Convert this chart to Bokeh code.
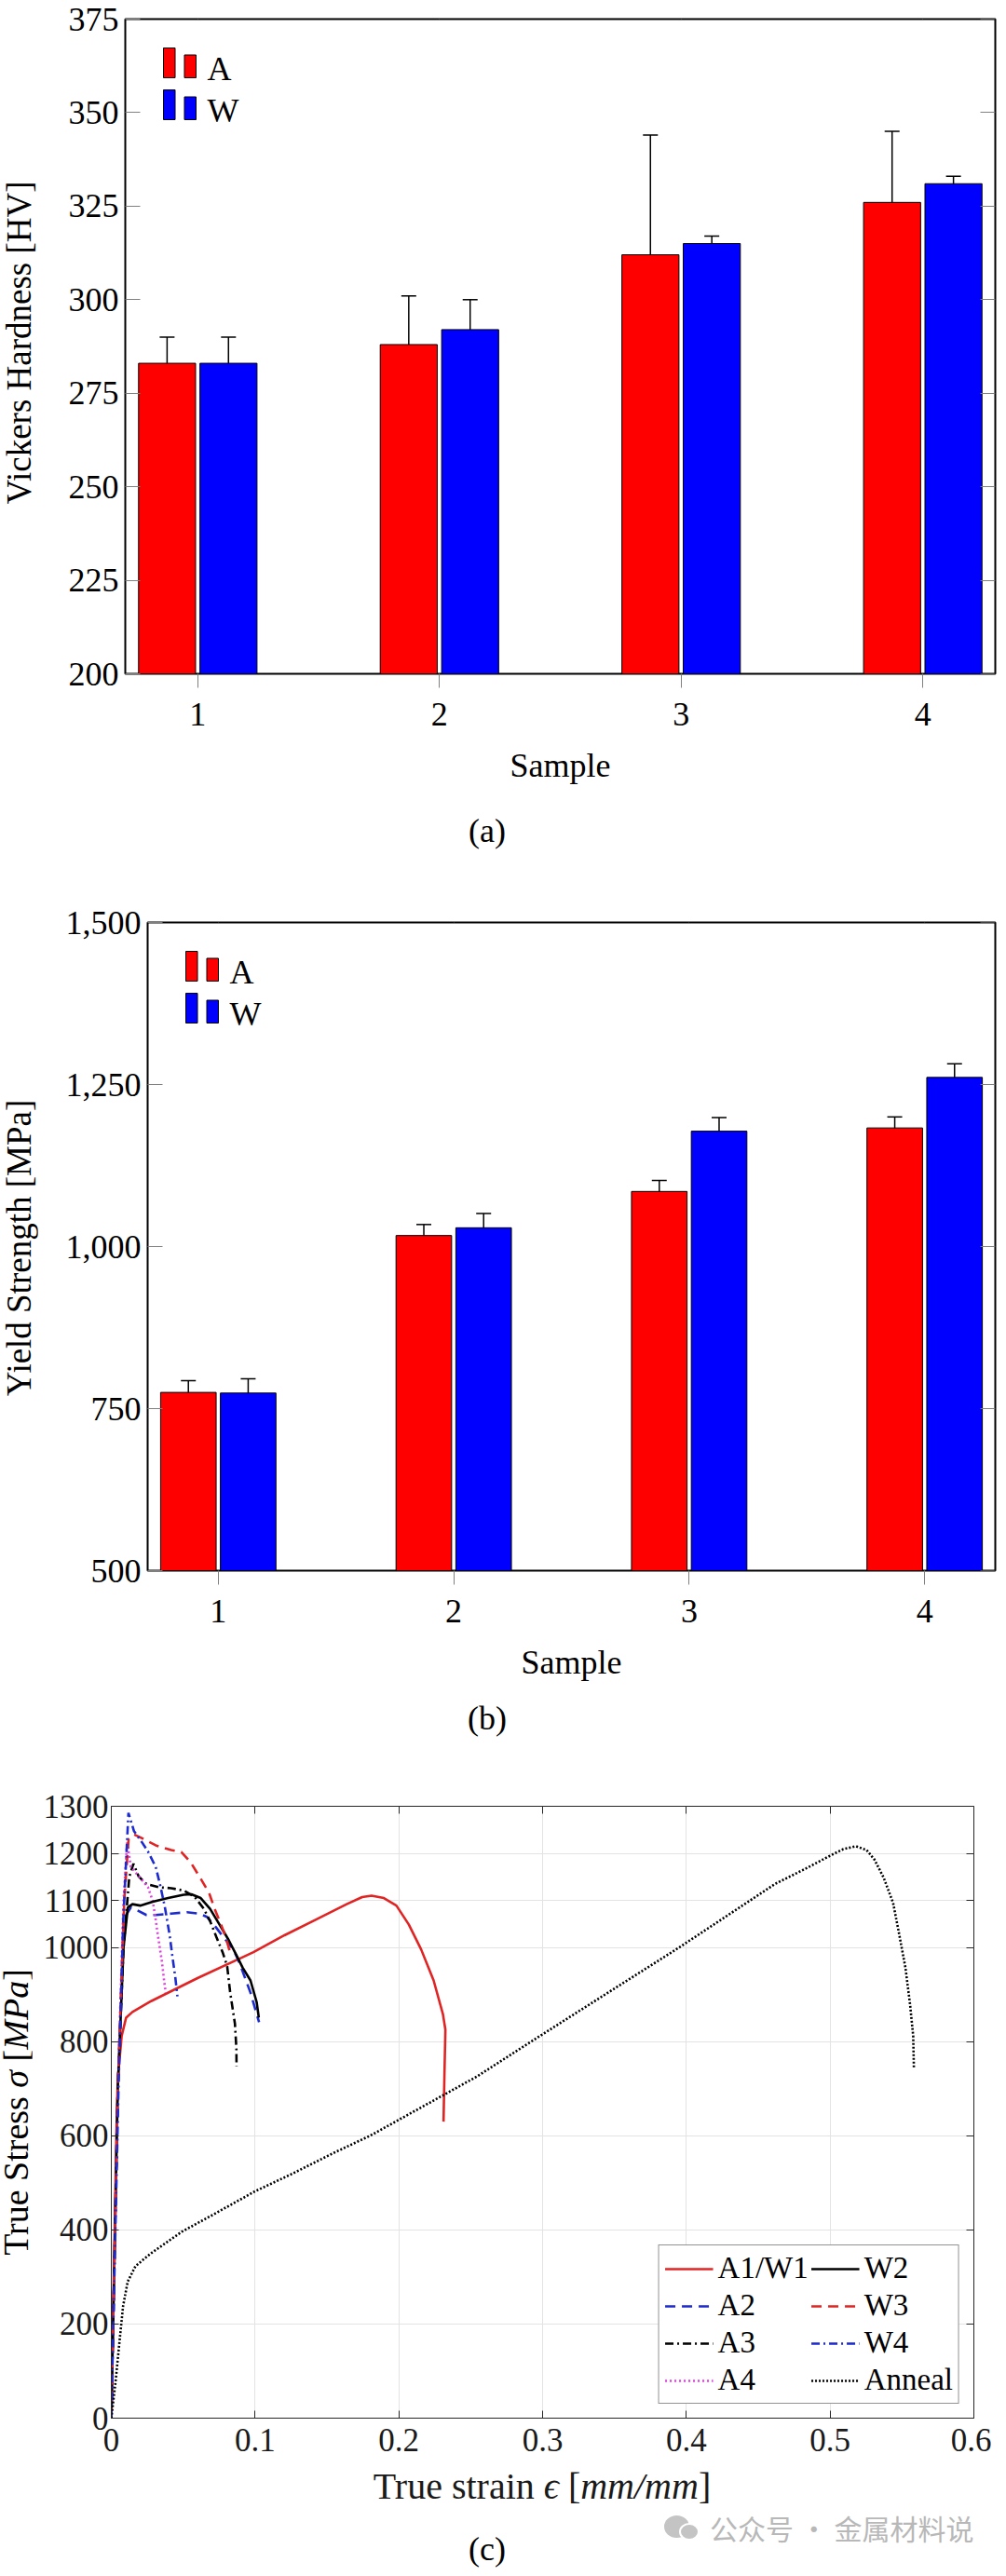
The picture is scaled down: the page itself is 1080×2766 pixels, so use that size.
import numpy as np
from bokeh.embed import file_html
from bokeh.layouts import column, row
from bokeh.models import (BoxAnnotation, ColumnDataSource, Div, FixedTicker, Label, Legend,
                          LegendItem, LinearAxis, NumeralTickFormatter, TeeHead, Whisker)
from bokeh.plotting import figure
from bokeh.resources import INLINE

# ---- data ----
samples = [1, 2, 3, 4]

hv_A = [283, 288, 312, 326]
hv_A_err = [7, 13, 32, 19]
hv_W = [283, 292, 315, 331]
hv_W_err = [7, 8, 2, 2]

ys_A = [775, 1017, 1085, 1183]
ys_A_err = [18, 17, 17, 17]
ys_W = [774, 1029, 1178, 1261]
ys_W_err = [22, 22, 21, 21]

a1w1_strain = [0, 0.0035, 0.0045, 0.0072, 0.0103, 0.0147, 0.0277, 0.060, 0.0989, 0.1205, 0.1421,
               0.1637, 0.1745, 0.181, 0.1896, 0.1983, 0.2069, 0.2155, 0.2242, 0.2307, 0.2324, 0.2317, 0.2311]
a1w1_stress = [0, 600, 720, 812, 851, 863, 886, 935, 990, 1026, 1059,
               1092, 1107, 1110, 1105, 1089, 1049, 996, 930, 858, 825, 726, 630]

a2_strain = [0, 0.0045, 0.008, 0.0105, 0.0136, 0.018, 0.0244, 0.0309, 0.0417, 0.0525, 0.0611,
             0.0665, 0.073, 0.0795, 0.0849, 0.0892, 0.0968, 0.1028]
a2_stress = [0, 700, 1000, 1070, 1085, 1079, 1069, 1069, 1072, 1075, 1072,
             1065, 1042, 1016, 996, 967, 904, 841]

a3_strain = [0, 0.0045, 0.0085, 0.0125, 0.0154, 0.019, 0.0244, 0.033, 0.0417, 0.0503, 0.0579,
             0.0644, 0.0687, 0.073, 0.0774, 0.0806, 0.0827, 0.086, 0.087, 0.0871]
a3_stress = [0, 700, 1000, 1150, 1178, 1151, 1135, 1128, 1126, 1121, 1108,
             1082, 1056, 1023, 990, 960, 904, 838, 785, 747]

a4_strain = [0, 0.0045, 0.0085, 0.011, 0.0136, 0.0201, 0.0255, 0.0288, 0.0309, 0.0324, 0.0352, 0.0367, 0.0378]
a4_stress = [0, 700, 1100, 1225, 1171, 1148, 1128, 1099, 1059, 1026, 970, 930, 904]

w2_strain = [0, 0.0045, 0.0085, 0.0115, 0.0147, 0.0201, 0.0288, 0.0395, 0.0503, 0.0557, 0.0622,
             0.0687, 0.0752, 0.0816, 0.0871, 0.0914, 0.0968, 0.1011, 0.1026]
w2_stress = [0, 700, 1000, 1085, 1092, 1089, 1097, 1105, 1112, 1113, 1105,
             1082, 1049, 1016, 983, 957, 930, 884, 851]

w3_strain = [0, 0.0045, 0.009, 0.012, 0.0158, 0.0201, 0.0309, 0.0417, 0.0487, 0.0552, 0.0616,
             0.068, 0.0719, 0.0763, 0.0795, 0.083]
w3_stress = [0, 700, 1100, 1230, 1240, 1234, 1217, 1207, 1203, 1181, 1149,
             1116, 1082, 1049, 1023, 985]

w4_strain = [0, 0.005, 0.0082, 0.0119, 0.0158, 0.0212, 0.0255, 0.0309, 0.0341, 0.0373, 0.0406,
             0.0424, 0.0445, 0.046]
w4_stress = [0, 700, 1050, 1286, 1247, 1224, 1204, 1171, 1131, 1085, 1026,
             983, 937, 896]

anneal_strain = [0, 0.0028, 0.006, 0.0082, 0.0114, 0.0168, 0.0275, 0.049, 0.0706, 0.1, 0.125,
                 0.155, 0.18, 0.2544, 0.292, 0.346, 0.395, 0.4617, 0.4833, 0.5, 0.5092, 0.518,
                 0.5254, 0.5308, 0.5373, 0.5438, 0.548, 0.5524, 0.5557, 0.5578, 0.5583]
anneal_stress = [0, 73, 172, 238, 290, 323, 350, 396, 432, 482, 518,
                 564, 600, 726, 800, 905, 1000, 1135, 1168, 1195, 1209, 1215,
                 1207, 1187, 1148, 1095, 1029, 957, 877, 812, 742]

strain_ticks = [0, 0.1, 0.2, 0.3, 0.4, 0.5, 0.6]
stress_ticks = [0, 200, 400, 600, 800, 1000, 1100, 1200, 1300]

SERIF = "Liberation Serif"
FS = "36px"


def tick_only_axis(ticks, loc, t_in, t_out, color, line_color):
    # box-style ticks on the far side of the frame, no labels
    return LinearAxis(ticker=FixedTicker(ticks=ticks), fixed_location=loc,
                      major_label_text_color=None, major_label_text_font_size="1px",
                      major_tick_in=t_in, major_tick_out=t_out, axis_line_color=line_color,
                      major_tick_line_color=color, minor_tick_line_color=None)


def ylabel_div(html, width, height, cy, size):
    # rotated axis title, kept in its own box so the frame position is exact
    return Div(text=f'<div style="position:relative;width:{width}px;height:{height}px">'
                    f'<div style="position:absolute;left:{width / 2}px;top:{cy}px;'
                    f'transform:translate(-50%,-50%) rotate(-90deg);white-space:nowrap;'
                    f'font-family:\'Liberation Serif\';font-size:{size}px;line-height:1;'
                    f'color:black">{html}</div></div>',
               width=width, height=height, margin=0)


def caption(text, height):
    return Div(text=f'<div style="width:1064px;height:{height}px;box-sizing:border-box;'
                    f'padding-right:18px;text-align:center;line-height:{height}px;'
                    f'font-family:\'Liberation Serif\';font-size:36px;color:black">{text}</div>',
               width=1064, height=height, margin=0)


def bar_panel(vals_a, err_a, vals_w, err_w, yr, yticks, height, b_top, b_left, frame_h):
    p = figure(width=1030, height=height, x_range=(0.7, 4.3), y_range=yr,
               output_backend="svg", toolbar_location=None,
               min_border_left=b_left, min_border_right=2, min_border_top=b_top,
               min_border_bottom=height - b_top - frame_h)
    p.xgrid.visible = False
    p.ygrid.visible = False
    p.outline_line_color = "black"
    p.outline_line_width = 2

    xs = np.array(samples, dtype=float)
    for vals, err, off, col in [(vals_a, err_a, -0.127, "#ff0000"), (vals_w, err_w, 0.127, "#0000ff")]:
        x = xs + off
        p.vbar(x=x, top=vals, width=0.236, fill_color=col, line_color="black", line_width=1)
        src = ColumnDataSource(dict(x=x, upper=np.array(vals) + np.array(err),
                                    lower=np.array(vals) - np.array(err)))
        p.add_layout(Whisker(source=src, base="x", upper="upper", lower="lower",
                             line_color="black", line_width=1.5,
                             upper_head=TeeHead(size=16, line_color="black", line_width=1.5),
                             lower_head=TeeHead(size=16, line_color="black", line_width=1.5)))

    p.xaxis.ticker = FixedTicker(ticks=samples)
    p.yaxis.ticker = FixedTicker(ticks=yticks)
    p.xaxis.axis_label = "Sample"
    for ax in (p.xaxis[0], p.yaxis[0]):
        ax.axis_line_color = None
        ax.major_tick_line_color = "#808080"
        ax.minor_tick_line_color = None
        ax.major_label_text_font = SERIF
        ax.major_label_text_font_size = FS
        ax.major_label_text_color = "black"
        ax.axis_label_text_font = SERIF
        ax.axis_label_text_font_size = FS
        ax.axis_label_text_font_style = "normal"
        ax.axis_label_text_color = "black"
    p.xaxis.major_tick_out = 15
    p.xaxis.major_tick_in = 0
    p.xaxis.major_label_standoff = 16
    p.xaxis.axis_label_standoff = 20
    p.yaxis.major_tick_out = 0
    p.yaxis.major_tick_in = 16
    p.yaxis.major_label_standoff = 7

    p.add_layout(tick_only_axis(samples, yr[1], 0, 15, "#808080", None), "above")
    p.add_layout(tick_only_axis(yticks, 4.3, 16, 0, "#808080", None), "right")

    # legend keys (two little bars per entry, like pgfplots)
    for rw, (col, name) in enumerate([("#ff0000", "A"), ("#0000ff", "W")]):
        top0 = frame_h - 31 - 45 * rw
        for l, r, t in [(41, 53.5, top0), (63.5, 76, top0 - 7.5)]:
            p.add_layout(BoxAnnotation(left=l, right=r, top=t, bottom=top0 - 32,
                                       left_units="screen", right_units="screen",
                                       top_units="screen", bottom_units="screen",
                                       fill_color=col, fill_alpha=1, line_color="black",
                                       line_width=1, line_alpha=1))
        p.add_layout(Label(x=88, y=top0 - 22, x_units="screen", y_units="screen", text=name,
                           text_font=SERIF, text_font_size=FS, text_baseline="middle",
                           text_color="black"))
    return p


p1 = bar_panel(hv_A, hv_A_err, hv_W, hv_W_err, (200, 375), [200, 225, 250, 275, 300, 325, 350, 375],
               height=862, b_top=20, b_left=94, frame_h=703)
row_a = row(ylabel_div("Vickers Hardness [HV]", 40, 862, 367.5, 37), p1, spacing=0)
cap_a = caption("(a)", 60)

p2 = bar_panel(ys_A, ys_A_err, ys_W, ys_W_err, (500, 1500), [500, 750, 1000, 1250, 1500],
               height=896, b_top=68, b_left=118, frame_h=696)
p2.yaxis[0].formatter = NumeralTickFormatter(format="0,0")
row_b = row(ylabel_div("Yield Strength [MPa]", 40, 896, 418, 37), p2, spacing=0)
cap_b = caption("(b)", 54)

# ---- (c) true stress-strain ----
p3 = figure(width=1030, height=779, x_range=(0, 0.6), y_range=(0, 1300),
            output_backend="svg", toolbar_location=None,
            min_border_left=85, min_border_right=19, min_border_top=67, min_border_bottom=55)
p3.outline_line_color = "#262626"
p3.outline_line_width = 1
p3.xgrid.ticker = FixedTicker(ticks=strain_ticks)
p3.ygrid.ticker = FixedTicker(ticks=stress_ticks)
p3.grid.grid_line_color = "#e3e3e3"
p3.grid.grid_line_width = 1

curves = [
    ("A1/W1", a1w1_strain, a1w1_stress, "#e02424", "solid"),
    ("A2", a2_strain, a2_stress, "#1c2ad0", "11 7"),
    ("A3", a3_strain, a3_stress, "#000000", "9 4 2 4"),
    ("A4", a4_strain, a4_stress, "#e040e0", "2 3"),
    ("W2", w2_strain, w2_stress, "#000000", "solid"),
    ("W3", w3_strain, w3_stress, "#e02424", "11 7"),
    ("W4", w4_strain, w4_stress, "#1c2ad0", "9 4 2 4"),
    ("Anneal", anneal_strain, anneal_stress, "#000000", "2 2"),
]
items = []
for name, xs_, ys_, col, dash in curves:
    r = p3.line(xs_, ys_, line_color=col, line_dash=dash, line_width=2.6)
    items.append(LegendItem(label=name, renderers=[r]))

leg = Legend(items=items, location="bottom_right", ncols=2, margin=15, padding=6, spacing=3,
             glyph_width=52, glyph_height=30, label_height=30, label_standoff=5,
             label_text_font=SERIF, label_text_font_size="33px", label_text_color="black",
             border_line_color="#262626", border_line_width=1, background_fill_alpha=1)
p3.add_layout(leg)

p3.xaxis.ticker = FixedTicker(ticks=strain_ticks)
p3.xaxis.major_label_overrides = {0: "0", 0.1: "0.1", 0.2: "0.2", 0.3: "0.3",
                                  0.4: "0.4", 0.5: "0.5", 0.6: "0.6"}
p3.yaxis.ticker = FixedTicker(ticks=stress_ticks)
for ax in (p3.xaxis[0], p3.yaxis[0]):
    ax.axis_line_color = "#262626"
    ax.major_tick_line_color = "#262626"
    ax.minor_tick_line_color = None
    ax.major_tick_in = 8
    ax.major_tick_out = 0
    ax.major_label_text_font = SERIF
    ax.major_label_text_font_size = "35px"
    ax.major_label_text_color = "#1a1a1a"
p3.xaxis.major_label_standoff = 11
p3.yaxis.major_label_standoff = 3

p3.add_layout(tick_only_axis(strain_ticks, 1300, 8, 0, "#262626", "#262626"), "above")
p3.add_layout(tick_only_axis(stress_ticks, 0.6, 8, 0, "#262626", "#262626"), "right")

row_c = row(ylabel_div("True Stress <i>\u03c3</i> [<i>MPa</i>]", 34, 779, 395.5, 38), p3, spacing=0)

cap_c = Div(text='<div style="position:relative;width:1064px;height:99px;'
                 'font-family:\'Liberation Serif\';color:#1a1a1a">'
                 '<span style="position:absolute;left:582px;top:19px;transform:translate(-50%,-50%);'
                 'white-space:nowrap;font-size:40px;line-height:1.1">'
                 'True strain <i>\u03f5</i> [<i>mm/mm</i>]</span>'
                 '<span style="position:absolute;left:713px;top:50px;width:27px;height:24px;'
                 'border-radius:50%;background:#c4c4c4"></span>'
                 '<span style="position:absolute;left:729px;top:58px;width:22px;height:19px;'
                 'border-radius:50%;background:#c4c4c4;border:2px solid white"></span>'
                 '<span style="position:absolute;left:762px;top:63px;transform:translateY(-50%);'
                 'white-space:nowrap;font-family:\'Noto Sans CJK SC\';font-size:30px;line-height:1.1;'
                 'color:#b8b8b8">\u516c\u4f17\u53f7 \u00b7 \u91d1\u5c5e\u6750\u6599\u8bf4</span>'
                 '<span style="position:absolute;left:523px;top:87px;transform:translate(-50%,-50%);'
                 'white-space:nowrap;font-size:36px;line-height:1.1;color:black">(c)</span>'
                 '</div>', width=1064, height=99, margin=0)

layout = column(row_a, cap_a, row_b, cap_b, row_c, cap_c, spacing=0)
open("out.html", "w").write(file_html(layout, INLINE))
